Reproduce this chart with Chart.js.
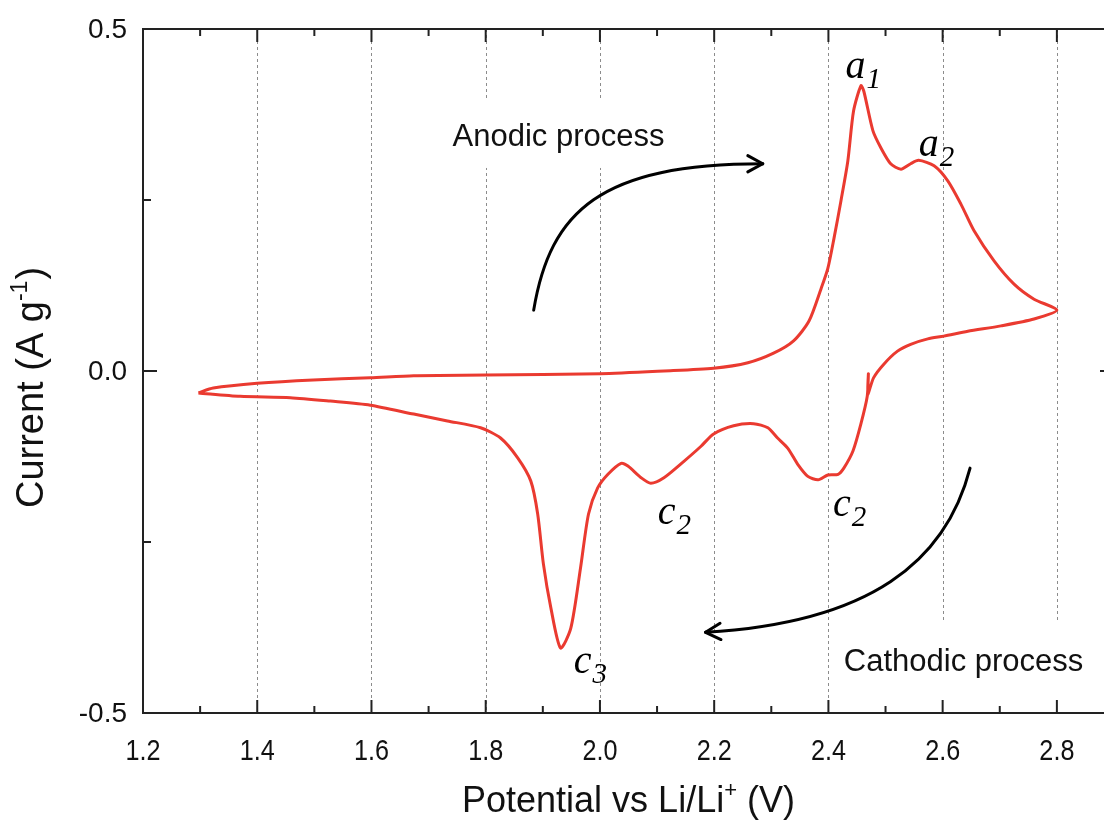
<!DOCTYPE html>
<html>
<head>
<meta charset="utf-8">
<script src="https://cdn.jsdelivr.net/npm/chart.js@4.4.1/dist/chart.umd.min.js"></script>
<style>
  html, body { margin: 0; padding: 0; background: #fff; overflow: hidden; }
  canvas { display: block; }
</style>
</head>
<body>
<canvas id="cvCanvas" width="1120" height="820"></canvas>
<script>
// anodic sweep 1.3 V -> 2.8 V
var anodicPotential = [1.297, 1.323, 1.400, 1.498, 1.598, 1.674, 1.800, 2.001, 2.112, 2.199,
  2.259, 2.304, 2.339, 2.366, 2.387, 2.399, 2.410, 2.422, 2.434, 2.444,
  2.457, 2.462, 2.478, 2.492, 2.509, 2.527, 2.544, 2.558, 2.585, 2.609,
  2.632, 2.655, 2.690, 2.725, 2.760, 2.800];
var anodicCurrent = [-0.032, -0.025, -0.018, -0.013, -0.010, -0.007, -0.006, -0.004, 0.000, 0.004,
  0.012, 0.026, 0.044, 0.073, 0.120, 0.150, 0.195, 0.249, 0.307, 0.380,
  0.417, 0.409, 0.351, 0.326, 0.303, 0.295, 0.303, 0.308, 0.300, 0.278,
  0.244, 0.205, 0.161, 0.127, 0.105, 0.089];

// cathodic sweep 2.8 V -> 1.3 V
var cathodicPotential = [2.800, 2.760, 2.702, 2.644, 2.602, 2.574, 2.544, 2.521, 2.497, 2.479,
  2.469, 2.470, 2.468, 2.457, 2.443, 2.427, 2.417, 2.399, 2.382, 2.364,
  2.346, 2.329, 2.311, 2.294, 2.269, 2.234, 2.199, 2.177, 2.147, 2.112,
  2.089, 2.072, 2.049, 2.037, 2.014, 1.996, 1.980, 1.966, 1.949, 1.931,
  1.914, 1.901, 1.891, 1.879, 1.856, 1.826, 1.791, 1.733, 1.674, 1.598,
  1.528, 1.458, 1.370, 1.297];
var cathodicCurrent = [0.089, 0.076, 0.066, 0.058, 0.051, 0.047, 0.039, 0.029, 0.010, -0.010,
  -0.034, -0.004, -0.037, -0.077, -0.117, -0.142, -0.151, -0.152, -0.159, -0.154,
  -0.136, -0.113, -0.098, -0.083, -0.077, -0.080, -0.092, -0.110, -0.132, -0.156,
  -0.164, -0.156, -0.139, -0.135, -0.151, -0.171, -0.209, -0.288, -0.376, -0.405,
  -0.346, -0.282, -0.209, -0.161, -0.127, -0.098, -0.083, -0.073, -0.063, -0.050,
  -0.044, -0.039, -0.037, -0.032];

// axes
var xMin = 1.2, xMax = 2.9, yMin = -0.5, yMax = 0.5;
var xTickValues = [1.2, 1.4, 1.6, 1.8, 2.0, 2.2, 2.4, 2.6, 2.8];
var xMinorValues = [1.3, 1.5, 1.7, 1.9, 2.1, 2.3, 2.5, 2.7];
var yTickValues = [-0.5, 0.0, 0.5];
var yMinorValues = [-0.25, 0.25];

// peak labels (letter + subscript), placed at data coords
var peakLetters = ["a", "a", "c", "c", "c"];
var peakSubs = ["1", "2", "2", "2", "3"];
var peakX = [2.430, 2.558, 2.101, 2.408, 1.954];
var peakY = [0.428, 0.314, -0.224, -0.212, -0.442];

// process notes and their curved arrows (start, ctrl1, ctrl2, end)
var noteTexts = ["Anodic process", "Cathodic process"];
var noteX = [1.742, 2.427];
var noteY = [0.329, -0.439];
var arrowAnodic = [[1.884, 0.089], [1.913, 0.234], [2.001, 0.303], [2.285, 0.303]];
var arrowCathodic = [[2.648, -0.142], [2.606, -0.278], [2.474, -0.368], [2.185, -0.382]];

var lineColor = "rgb(234, 58, 48)";
var sansFont = "'Liberation Sans', Arial, sans-serif";
var serifFont = "'Liberation Serif', 'Times New Roman', serif";

function toPoints(xs, ys) {
  var pts = [];
  for (var i = 0; i < xs.length; i++) pts.push({x: xs[i], y: ys[i]});
  return pts;
}
var loopPoints = toPoints(anodicPotential, anodicCurrent).concat(toPoints(cathodicPotential, cathodicCurrent).slice(1));

function seg(ctx, x1, y1, x2, y2) {
  ctx.beginPath(); ctx.moveTo(x1, y1); ctx.lineTo(x2, y2); ctx.stroke();
}

function drawArrow(ctx, sx, sy, pts) {
  var p = pts.map(function(q) { return [sx.getPixelForValue(q[0]), sy.getPixelForValue(q[1])]; });
  ctx.beginPath();
  ctx.moveTo(p[0][0], p[0][1]);
  ctx.bezierCurveTo(p[1][0], p[1][1], p[2][0], p[2][1], p[3][0], p[3][1]);
  ctx.stroke();
  var ang = Math.atan2(p[3][1] - p[2][1], p[3][0] - p[2][0]);
  var len = 17, spread = 0.5;
  seg(ctx, p[3][0], p[3][1], p[3][0] - len * Math.cos(ang - spread), p[3][1] - len * Math.sin(ang - spread));
  seg(ctx, p[3][0], p[3][1], p[3][0] - len * Math.cos(ang + spread), p[3][1] - len * Math.sin(ang + spread));
}

var framePlugin = {
  id: "frame",
  beforeDatasetsDraw: function(chart) {
    var ctx = chart.ctx, a = chart.chartArea, sx = chart.scales.x, sy = chart.scales.y;
    ctx.save();
    // dotted grid at major x ticks
    ctx.strokeStyle = "#8c8c8c";
    ctx.lineWidth = 1;
    ctx.setLineDash([3, 3]);
    xTickValues.forEach(function(v) {
      if (v <= xMin) return;
      var p = Math.round(sx.getPixelForValue(v)) + 0.5;
      seg(ctx, p, a.top, p, a.bottom);
    });
    ctx.setLineDash([]);
    // white boxes behind the notes
    ctx.font = "31px " + sansFont;
    ctx.fillStyle = "#fff";
    for (var i = 0; i < noteTexts.length; i++) {
      var w = ctx.measureText(noteTexts[i]).width;
      var nx = sx.getPixelForValue(noteX[i]), ny = sy.getPixelForValue(noteY[i]);
      var padTop = i === 0 ? 25 : 28, padBot = i === 0 ? 22 : 50;
      ctx.fillRect(nx - 10, ny - 22 - padTop, w + 20, 22 + padTop + padBot);
    }
    ctx.restore();
  },
  afterDatasetsDraw: function(chart) {
    var ctx = chart.ctx, a = chart.chartArea, sx = chart.scales.x, sy = chart.scales.y;
    ctx.save();
    ctx.strokeStyle = "#222";
    ctx.lineWidth = 2;
    ctx.strokeRect(a.left, a.top, a.right - a.left, a.bottom - a.top);
    // inward ticks on all four sides
    xTickValues.forEach(function(v) {
      var p = sx.getPixelForValue(v);
      seg(ctx, p, a.bottom, p, a.bottom - 13);
      seg(ctx, p, a.top, p, a.top + 13);
    });
    xMinorValues.forEach(function(v) {
      var p = sx.getPixelForValue(v);
      seg(ctx, p, a.bottom, p, a.bottom - 7);
      seg(ctx, p, a.top, p, a.top + 7);
    });
    yTickValues.forEach(function(v) {
      var p = sy.getPixelForValue(v);
      seg(ctx, a.left, p, a.left + 14, p);
      seg(ctx, a.right, p, a.right - 14, p);
    });
    yMinorValues.forEach(function(v) {
      var p = sy.getPixelForValue(v);
      seg(ctx, a.left, p, a.left + 8, p);
      seg(ctx, a.right, p, a.right - 8, p);
    });

    // tick labels (x labels are a bit condensed in the original)
    ctx.fillStyle = "#111";
    ctx.font = "30px " + sansFont;
    ctx.textAlign = "center";
    ctx.textBaseline = "alphabetic";
    xTickValues.forEach(function(v) {
      ctx.save();
      ctx.translate(sx.getPixelForValue(v), a.bottom + 47);
      ctx.scale(0.84, 1);
      ctx.fillText(v.toFixed(1), 0, 0);
      ctx.restore();
    });
    ctx.font = "28px " + sansFont;
    ctx.textAlign = "right";
    ctx.textBaseline = "middle";
    yTickValues.forEach(function(v) {
      ctx.fillText(v.toFixed(1), a.left - 16, sy.getPixelForValue(v) + 1);
    });

    // x title with superscript
    ctx.textBaseline = "alphabetic";
    ctx.textAlign = "left";
    var t1 = "Potential vs Li/Li", t2 = "+", t3 = " (V)";
    ctx.font = "36px " + sansFont;
    var w1 = ctx.measureText(t1).width, w3 = ctx.measureText(t3).width;
    ctx.font = "22px " + sansFont;
    var w2 = ctx.measureText(t2).width;
    var cx = (a.left + a.right) / 2, x0 = cx - (w1 + w2 + w3) / 2, by = 812;
    ctx.font = "36px " + sansFont;
    ctx.fillText(t1, x0, by);
    ctx.fillText(t3, x0 + w1 + w2, by);
    ctx.font = "22px " + sansFont;
    ctx.fillText(t2, x0 + w1, by - 15);

    // y title, rotated, with superscript
    ctx.save();
    ctx.translate(43, (a.top + a.bottom) / 2 + 17);
    ctx.rotate(-Math.PI / 2);
    var y1 = "Current (A g", y2 = "-1", y3 = ")";
    ctx.font = "38px " + sansFont;
    var v1 = ctx.measureText(y1).width, v3 = ctx.measureText(y3).width;
    ctx.font = "23px " + sansFont;
    var v2 = ctx.measureText(y2).width;
    var s0 = -(v1 + v2 + v3) / 2;
    ctx.font = "38px " + sansFont;
    ctx.fillText(y1, s0, 0);
    ctx.fillText(y3, s0 + v1 + v2 + 1, 0);
    ctx.font = "23px " + sansFont;
    ctx.fillText(y2, s0 + v1, -16);
    ctx.restore();

    // notes
    ctx.font = "31px " + sansFont;
    for (var i = 0; i < noteTexts.length; i++) {
      ctx.fillText(noteTexts[i], sx.getPixelForValue(noteX[i]), sy.getPixelForValue(noteY[i]));
    }

    // arrows
    ctx.strokeStyle = "#000";
    ctx.lineWidth = 3;
    ctx.lineCap = "round";
    drawArrow(ctx, sx, sy, arrowAnodic);
    drawArrow(ctx, sx, sy, arrowCathodic);

    // peak labels
    ctx.fillStyle = "#000";
    for (var k = 0; k < peakLetters.length; k++) {
      var lx = sx.getPixelForValue(peakX[k]), ly = sy.getPixelForValue(peakY[k]);
      ctx.font = "italic 40px " + serifFont;
      var lw = ctx.measureText(peakLetters[k]).width;
      ctx.fillText(peakLetters[k], lx, ly);
      ctx.font = "italic 29px " + serifFont;
      ctx.fillText(peakSubs[k], lx + lw + 1, ly + 10);
    }
    ctx.restore();
  }
};

var cvChart = new Chart(document.getElementById("cvCanvas"), {
  type: "scatter",
  data: {
    datasets: [{
      label: "CV",
      data: loopPoints,
      showLine: true,
      borderColor: lineColor,
      borderWidth: 3,
      pointRadius: 0,
      tension: 0.25,
      fill: false
    }]
  },
  options: {
    responsive: false,
    animation: false,
    layout: { padding: { left: 143, top: 29, right: 6, bottom: 107 } },
    scales: {
      x: { type: "linear", min: xMin, max: xMax, display: false },
      y: { type: "linear", min: yMin, max: yMax, display: false }
    },
    plugins: {
      legend: { display: false },
      tooltip: { enabled: false }
    }
  },
  plugins: [framePlugin]
});
</script>
</body>
</html>
